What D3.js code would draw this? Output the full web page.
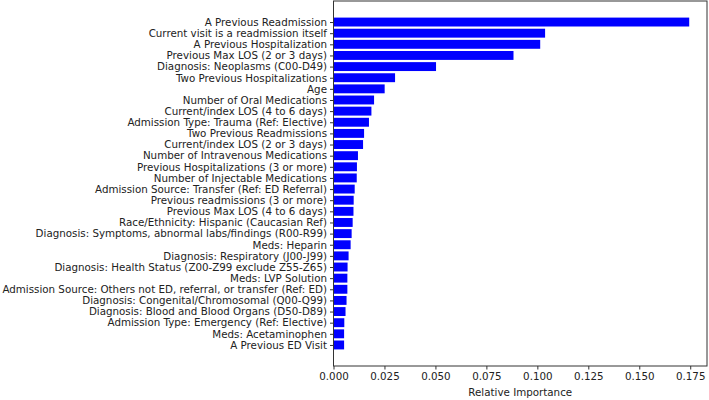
<!DOCTYPE html>
<html>
<head>
<meta charset="utf-8">
<script src="https://cdn.jsdelivr.net/npm/d3@7"></script>
<style>
  body { margin: 0; background: #fff; }
  svg text { font-family: "DejaVu Sans", sans-serif; fill: #222; }
</style>
</head>
<body>
<div id="chart"></div>
<script>
// features, top to bottom
var features = [
  'A Previous Readmission',
  'Current visit is a readmission itself',
  'A Previous Hospitalization',
  'Previous Max LOS (2 or 3 days)',
  'Diagnosis: Neoplasms (C00-D49)',
  'Two Previous Hospitalizations',
  'Age',
  'Number of Oral Medications',
  'Current/index LOS (4 to 6 days)',
  'Admission Type: Trauma (Ref: Elective)',
  'Two Previous Readmissions',
  'Current/index LOS (2 or 3 days)',
  'Number of Intravenous Medications',
  'Previous Hospitalizations (3 or more)',
  'Number of Injectable Medications',
  'Admission Source: Transfer (Ref: ED Referral)',
  'Previous readmissions (3 or more)',
  'Previous Max LOS (4 to 6 days)',
  'Race/Ethnicity: Hispanic (Caucasian Ref)',
  'Diagnosis: Symptoms, abnormal labs/findings (R00-R99)',
  'Meds: Heparin',
  'Diagnosis: Respiratory (J00-J99)',
  'Diagnosis: Health Status (Z00-Z99 exclude Z55-Z65)',
  'Meds: LVP Solution',
  'Admission Source: Others not ED, referral, or transfer (Ref: ED)',
  'Diagnosis: Congenital/Chromosomal (Q00-Q99)',
  'Diagnosis: Blood and Blood Organs (D50-D89)',
  'Admission Type: Emergency (Ref: Elective)',
  'Meds: Acetaminophen',
  'A Previous ED Visit'
];

var importance = [
  0.1745, 0.1038, 0.1014, 0.0883, 0.0503, 0.0302, 0.0251, 0.0199, 0.0186, 0.0174,
  0.0150, 0.0145, 0.0120, 0.0115, 0.0114, 0.0104, 0.0099, 0.0098, 0.0094, 0.0089,
  0.0084, 0.0074, 0.0069, 0.0068, 0.0068, 0.0064, 0.0059, 0.0053, 0.0052, 0.0052
];

var xTicks = [0, 0.025, 0.05, 0.075, 0.1, 0.125, 0.15, 0.175];

var width = 709, height = 400;
var margin = {top: 1, right: 2, bottom: 34, left: 333.5};
var innerW = width - margin.left - margin.right;
var innerH = height - margin.top - margin.bottom;

var svg = d3.select('#chart').append('svg')
    .attr('width', width)
    .attr('height', height);

var g = svg.append('g')
    .attr('transform', 'translate(' + margin.left + ',' + margin.top + ')');

// matplotlib-like limits: 5% margin
var xMax = d3.max(importance) * 1.05;
var x = d3.scaleLinear().domain([0, xMax]).range([0, innerW]);

// bar index i sits at value (n-1-i); bars 0.8 tall; ylim padded 5%
var n = features.length;
var lo = -0.4, hi = n - 1 + 0.4, pad = (hi - lo) * 0.05;
var y = d3.scaleLinear().domain([lo - pad, hi + pad]).range([innerH, 0]);

g.selectAll('rect.bar')
    .data(importance)
    .enter()
    .append('rect')
    .attr('class', 'bar')
    .attr('x', x(0))
    .attr('y', function(d, i) { return y(n - 1 - i + 0.4); })
    .attr('width', function(d) { return x(d) - x(0); })
    .attr('height', function(d, i) { return y(n - 1 - i - 0.4) - y(n - 1 - i + 0.4); })
    .attr('fill', '#0000ff');

// y axis
var yAxis = g.append('g')
    .call(d3.axisLeft(y)
        .tickValues(d3.range(n))
        .tickFormat(function(d) { return features[n - 1 - d]; })
        .tickSize(3.5)
        .tickPadding(3));
yAxis.select('.domain').remove();
yAxis.selectAll('text').style('font-size', '10.3px').style('fill', '#222');
yAxis.selectAll('line').attr('stroke', '#333');

// x axis
var xAxis = g.append('g')
    .attr('transform', 'translate(0,' + innerH + ')')
    .call(d3.axisBottom(x)
        .tickValues(xTicks)
        .tickFormat(d3.format('.3f'))
        .tickSize(3.5)
        .tickPadding(3));
xAxis.select('.domain').remove();
xAxis.selectAll('text').style('font-size', '10.3px').style('fill', '#222');
xAxis.selectAll('line').attr('stroke', '#333');

// frame
g.append('rect')
    .attr('width', innerW)
    .attr('height', innerH)
    .attr('fill', 'none')
    .attr('stroke', '#333')
    .attr('stroke-width', 1);

g.append('text')
    .attr('x', innerW / 2)
    .attr('y', innerH + 30)
    .attr('text-anchor', 'middle')
    .style('font-size', '10.3px')
    .text('Relative Importance');
</script>
</body>
</html>
